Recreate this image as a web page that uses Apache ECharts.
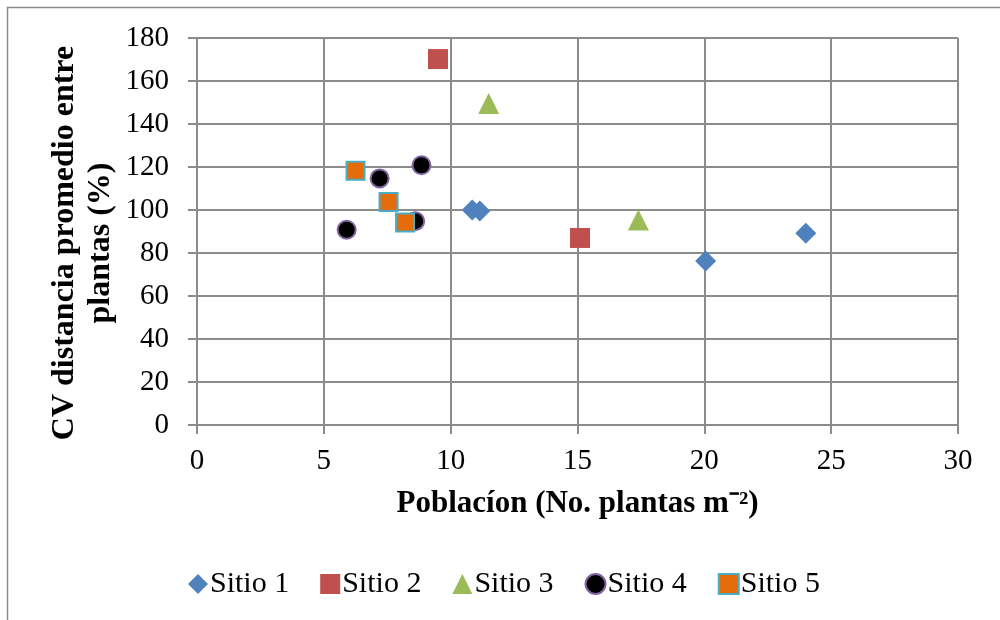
<!DOCTYPE html>
<html><head><meta charset="utf-8">
<script src="https://cdn.jsdelivr.net/npm/echarts@6/dist/echarts.min.js"></script>
<style>html,body{margin:0;padding:0;background:#fff}#c{width:1000px;height:620px}</style>
</head><body><div id="c"></div>
<script>
const seriesNames = ['Sitio 1','Sitio 2','Sitio 3','Sitio 4','Sitio 5'];
const sitio1 = [[10.85,100],[11.15,99.5],[20.05,76.3],[24.0,89.2]];
const sitio2 = [[9.5,170.2],[15.1,87.0]];
const sitio3 = [[11.5,149.5],[17.4,95.3]];
const sitio4 = [[8.85,120.8],[7.2,114.7],[5.9,90.8],[8.6,94.8]];
const sitio5 = [[6.25,118.2],[7.55,103.7],[8.2,94.2]];
const xTicks = [0,5,10,15,20,25,30];
const yTicks = [0,20,40,60,80,100,120,140,160,180];
const xTitle = 'Poblacíon (No. plantas m⁻²)';
const yTitle = 'CV distancia promedio entre\nplantas (%)';

const font = '"Liberation Serif", "Times New Roman", serif';
const chart = echarts.init(document.getElementById('c'), null, {renderer:'canvas'});
const gridLine = {show:true, lineStyle:{color:'#8c8c8c', width:2}};
const mk = (name, data, symbol, color, border, size) => ({
  name, type:'scatter', data, symbol, symbolSize:size,
  itemStyle:{color, borderColor:border||color, borderWidth:border?2:0, opacity:1}
});
chart.setOption({
  animation:false,
  textStyle:{fontFamily:font},
  graphic:[
    {type:'rect', shape:{x:7.5,y:7.5,width:1000,height:620}, style:{fill:'none', stroke:'#8c8c8c', lineWidth:1.5}, silent:true},
    {type:'text', x:83, y:243, rotation:Math.PI/2, silent:true,
      style:{text:yTitle, fill:'#000', font:'bold 32px ' + font, textAlign:'center', textVerticalAlign:'middle', lineHeight:36}}
  ],
  grid:{left:197, right:42, top:38, bottom:195},
  xAxis:{type:'value', min:xTicks[0], max:xTicks[xTicks.length-1], interval:5,
    axisLine:{show:true, onZero:false, lineStyle:{color:'#8c8c8c', width:2}},
    axisTick:{show:true, length:9, lineStyle:{color:'#8c8c8c', width:2}},
    splitLine:gridLine,
    axisLabel:{color:'#000', fontSize:29, fontFamily:font, margin:22},
    name:xTitle, nameLocation:'middle', nameGap:63,
    nameTextStyle:{color:'#000', fontSize:31, fontWeight:'bold', fontFamily:font}},
  yAxis:{type:'value', min:yTicks[0], max:yTicks[yTicks.length-1], interval:20,
    axisLine:{show:true, lineStyle:{color:'#8c8c8c', width:2}},
    axisTick:{show:true, length:9, lineStyle:{color:'#8c8c8c', width:2}},
    splitLine:gridLine,
    axisLabel:{color:'#000', fontSize:29, fontFamily:font, margin:28}},
  legend:{top:564, left:183, itemGap:31, itemWidth:20, itemHeight:20,
    textStyle:{color:'#000', fontSize:30, fontFamily:font, padding:[0,0,0,-3]},
    data:[
      {name:seriesNames[0], icon:'diamond'},
      {name:seriesNames[1], icon:'rect'},
      {name:seriesNames[2], icon:'triangle'},
      {name:seriesNames[3], icon:'circle'},
      {name:seriesNames[4], icon:'rect'}]},
  series:[
    mk(seriesNames[0], sitio1, 'diamond', '#4F81BD', null, 21),
    mk(seriesNames[1], sitio2, 'rect', '#C0504D', null, 20),
    mk(seriesNames[2], sitio3, 'triangle', '#9BBB59', null, 21),
    mk(seriesNames[3], sitio4, 'circle', '#000000', '#8064A2', 18),
    mk(seriesNames[4], sitio5, 'rect', '#E46C0A', '#4BACC6', 18)
  ]
});
</script></body></html>
